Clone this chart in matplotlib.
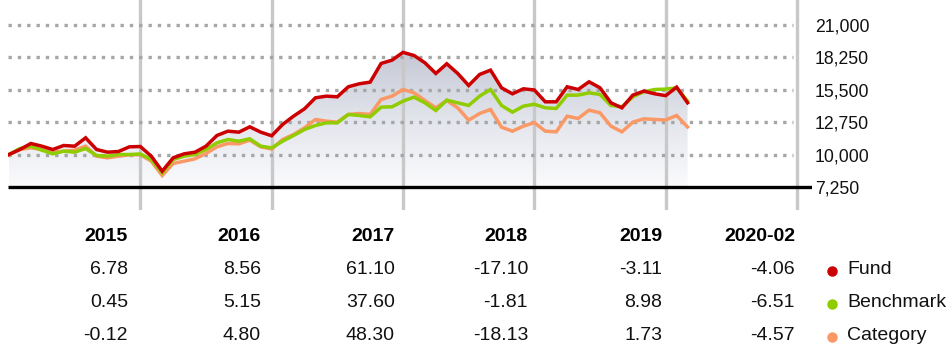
import matplotlib
matplotlib.use("Agg")
import matplotlib.pyplot as plt
import numpy as np
from matplotlib.colors import LinearSegmentedColormap
from matplotlib.patches import Polygon
from matplotlib.lines import Line2D

plt.rcParams['font.family'] = ['Liberation Sans', 'DejaVu Sans']

# growth of 10,000, month ends from 2014-12 to 2020-02
fund = [10000, 10425, 10935, 10708, 10425, 10765, 10708, 11417, 10425, 10198, 10255, 10652,
        10678, 9858, 8583, 9717, 10057, 10198, 10708, 11615, 11983, 11898, 12351, 11898,
        11592, 12550, 13258, 13881, 14816, 14958, 14901, 15751, 16006, 16148, 17734, 18017,
        18675, 18414, 17791, 16884, 17706, 16884, 15864, 16799, 17167, 15666, 15156, 15581,
        15482, 14476, 14476, 15751, 15524, 16176, 15666, 14391, 13966, 15043, 15383, 15156,
        15000, 15723, 14391]
benchmark = [10000, 10510, 10708, 10368, 10057, 10283, 10198, 10510, 9915, 9858, 10000, 10000,
             10045, 9575, 8442, 9575, 9858, 10000, 10425, 10992, 11275, 11133, 11332, 10708,
             10562, 11133, 11615, 12125, 12465, 12691, 12691, 13400, 13315, 13201, 14023, 14051,
             14533, 14873, 14391, 13740, 14618, 14391, 14165, 14958, 15524, 14165, 13598, 14108,
             14270, 13966, 13910, 15043, 15043, 15241, 15099, 14165, 14051, 14901, 15326, 15524,
             15552, 15666, 14540]
category = [10000, 10425, 10567, 10425, 10198, 10283, 10368, 10708, 9858, 9717, 9858, 9972,
            9988, 9433, 8215, 9235, 9433, 9632, 10085, 10652, 10935, 10907, 11218, 10652,
            10467, 11275, 11700, 12266, 12975, 12833, 12748, 13400, 13485, 13400, 14675, 14958,
            15523, 15241, 14590, 13966, 14590, 13966, 12918, 13485, 13825, 12323, 11983, 12408,
            12709, 11983, 11926, 13258, 13060, 13768, 13541, 12408, 11926, 12748, 13031, 12975,
            12929, 13315, 12338]

years = ["2015", "2016", "2017", "2018", "2019", "2020-02"]
fund_ret = ["6.78", "8.56", "61.10", "-17.10", "-3.11", "-4.06"]
bench_ret = ["0.45", "5.15", "37.60", "-1.81", "8.98", "-6.51"]
cat_ret = ["-0.12", "4.80", "48.30", "-18.13", "1.73", "-4.57"]

yticks = [7250, 10000, 12750, 15500, 18250, 21000]
year_ends = [12, 24, 36, 48, 60, 72]

red = "#cc0000"
green = "#8fcc00"
orange = "#fa9866"

W, H = 950, 359
fig = plt.figure(figsize=(W / 100, H / 100), dpi=100)
ax = fig.add_axes([8 / W, 1 - 210 / H, 804 / W, 210 / H])

x = np.arange(len(fund))
xlo, xhi = -0.09, 73.37
ylo, yhi = 5286, 23124

# gradient area under the fund line
grad = np.linspace(0, 1, 256).reshape(-1, 1)
cmap = LinearSegmentedColormap.from_list("g", ["#fbfbfd", "#e3e5ec", "#c5c8d5"])
im = ax.imshow(grad, extent=[0, x[-1], 7250, 18700], origin="lower", aspect="auto",
               cmap=cmap, zorder=1, interpolation="bilinear")
verts = np.column_stack([np.r_[x, x[-1], 0], np.r_[fund, 7250, 7250]])
poly = Polygon(verts, closed=True, facecolor="none", edgecolor="none")
ax.add_patch(poly)
im.set_clip_path(poly)

# grid
for xe in year_ends:
    ax.axvline(xe, color="#c8c8c8", lw=2.4, zorder=2)
ax.hlines(yticks[1:], xlo, 71.6, colors="#a6a6a6", lw=2.4, linestyles=(0, (1, 1.8)), zorder=2)
ax.hlines(7250, xlo, xhi, colors="black", lw=2.4, zorder=3)

ax.plot(x, category, color=orange, lw=2.5, zorder=4, solid_joinstyle="miter")
ax.plot(x, benchmark, color=green, lw=2.5, zorder=5, solid_joinstyle="miter")
ax.plot(x, fund, color=red, lw=2.5, zorder=6, solid_joinstyle="miter")

ax.set_xlim(xlo, xhi)
ax.set_ylim(ylo, yhi)
ax.set_xticks([])
ax.yaxis.tick_right()
ax.set_yticks(yticks)
ax.set_yticklabels([f"{v:,}" for v in yticks], fontsize=12.7, color="#111111")
ax.tick_params(axis="y", length=0, pad=2.2)
for s in ax.spines.values():
    s.set_visible(False)

# returns table
col_x = [128, 261, 395, 528, 662, 795]
row_y = [236.5, 269.5, 302.5, 335.5]
for cx, yr, f, b, c in zip(col_x, years, fund_ret, bench_ret, cat_ret):
    fig.text(cx / W, 1 - row_y[0] / H, yr, ha="right", va="center", fontsize=14,
             fontweight="bold", color="black")
    for ry, v in zip(row_y[1:], [f, b, c]):
        fig.text(cx / W, 1 - ry / H, v, ha="right", va="center", fontsize=14, color="#111111")

for ry, name, col in zip(row_y[1:], ["Fund", "Benchmark", "Category"], [red, green, orange]):
    fig.add_artist(Line2D([831.5 / W], [1 - (ry + 1.5) / H], marker="o", markersize=6.5,
                          color=col, transform=fig.transFigure))
    fig.text(847 / W, 1 - ry / H, name, ha="left", va="center", fontsize=14, color="#111111")

fig.savefig("out.png", dpi=100)
